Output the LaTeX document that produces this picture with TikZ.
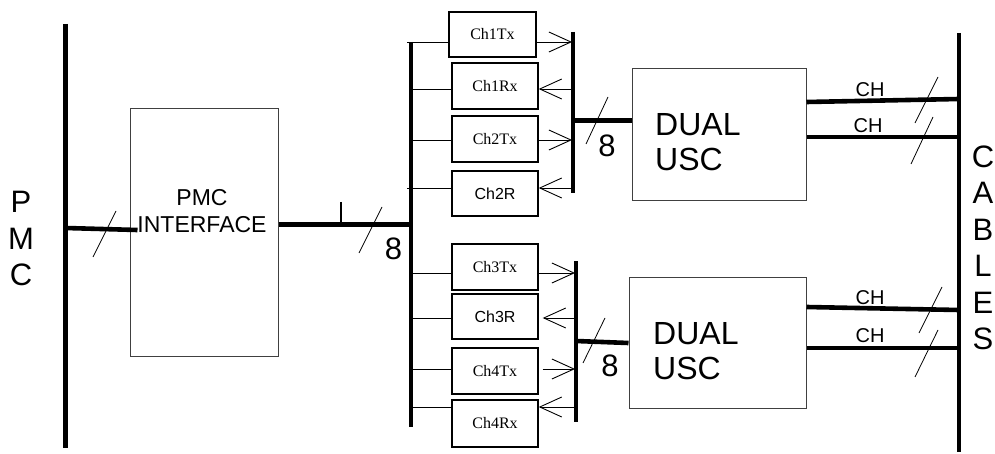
\documentclass[tikz,border=0pt]{standalone}
\usepackage{fontspec}
\setmainfont{Liberation Sans}
\newfontfamily\timesfont{Liberation Serif}
\usetikzlibrary{arrows.meta}
\newcommand\myfs[2]{\fontsize{#1}{#2}\selectfont}
\begin{document}
\begin{tikzpicture}[x=1pt,y=-1pt,
  bus/.style={line width=4.6pt},
  thickline/.style={line width=4.6pt},
  thinline/.style={line width=0.9pt},
  slash/.style={line width=0.8pt},
  arr/.style={line width=0.9pt,-{Straight Barb[length=22pt,width=20pt,line width=0.9pt]}},
  bigbox/.style={draw=black!75,line width=1pt,inner sep=0pt},
  chbox/.style={draw,line width=1.4pt,minimum width=86pt,minimum height=45pt,inner sep=0pt},
  sertext/.style={font=\timesfont\myfs{16}{18}},
  santext/.style={font=\myfs{16}{18}},
  eight/.style={font=\myfs{31}{34},inner sep=0pt},
  chlab/.style={font=\myfs{20}{22},inner sep=0pt},
  vert/.style={font=\myfs{31}{36.5},align=center,inner sep=0pt}]
\useasboundingbox (0,0) rectangle (995,454);

% buses
\draw[bus] (65.5,24) coordinate (pmcT) -- (65.5,448) coordinate (pmcB);
\draw[bus] (411,42) coordinate (lbT) -- (411,427) coordinate (lbB);
\draw[bus] (573,32) coordinate (rb1T) -- (573,193) coordinate (rb1B);
\draw[bus] (576,261) coordinate (rb2T) -- (576,422) coordinate (rb2B);
\draw[bus] (959,33) coordinate (cabT) -- (959,452) coordinate (cabB);

% vertical labels
\node[vert] (pmclab) at (21,238.5) {P\\M\\C};
\node[vert] (cablab) at (983,248) {C\\A\\B\\L\\E\\S};

% PMC interface
\node[bigbox,minimum width=148pt,minimum height=247pt] (pmcif) at (204,232.5) {};
\node[font=\myfs{23}{27},align=center,inner sep=0pt] (pmciftext) at (202,211) {PMC\\INTERFACE};

% channel boxes
\node[chbox,minimum width=87pt,sertext] (c1t) at (492.5,34.5) {Ch1Tx};
\node[chbox,minimum height=46pt,sertext] (c1r) at (495,86) {Ch1Rx};
\node[chbox,minimum height=46pt,sertext] (c2t) at (495,139) {Ch2Tx};
\node[chbox,santext] (c2r) at (495,193.5) {Ch2R};
\node[chbox,minimum height=46pt,sertext] (c3t) at (495,267) {Ch3Tx};
\node[chbox,santext] (c3r) at (495,316.5) {Ch3R};
\node[chbox,minimum height=46pt,sertext] (c4t) at (495,371) {Ch4Tx};
\node[chbox,minimum height=47pt,sertext] (c4r) at (495,423.5) {Ch4Rx};

% dual USC boxes
\node[bigbox,minimum width=174pt,minimum height=132pt] (usc1) at (719,135) {};
\node[font=\myfs{32}{35},align=left,inner sep=0pt,anchor=north west] (usc1t) at (655,113) {DUAL\\USC};
\node[bigbox,minimum width=177pt,minimum height=131pt] (usc2) at (717.5,342.5) {};
\node[font=\myfs{32}{35},align=left,inner sep=0pt,anchor=north west] (usc2t) at (653,322) {DUAL\\USC};

% PMC bus to interface
\draw[thickline] (65.5,228) -- ([xshift=8pt]pmcif.west |- 0,230);
\draw[slash] (93,257) -- (116,211);

% interface to left bus
\draw[thickline] (pmcif.east |- 0,224.5) -- (411,224.5);
\draw[line width=2pt] (341,202) -- (341,224);
\draw[slash] (359,253) -- (382,207);
\node[eight] (e1) at (393.5,248.5) {8};

% left bus to channel boxes
\draw[thinline] (407,42) -- (c1t.west |- 0,42);
\draw[thinline] (411,89) -- (c1r.west |- 0,89);
\draw[thinline] (411,140) -- (c2t.west |- 0,140);
\draw[thinline] (407,188) -- (c2r.west |- 0,188);
\draw[thinline] (411,273) -- (c3t.west |- 0,273);
\draw[thinline] (411,318) -- (c3r.west |- 0,318);
\draw[thinline] (411,369) -- (c4t.west |- 0,369);
\draw[thinline] (411,407) -- (c4r.west |- 0,407);

% channel boxes to right buses
\draw[arr] (c1t.east |- 0,42) -- (572,42);
\draw[arr] (572,89) -- (c1r.east |- 0,89);
\draw[arr] (c2t.east |- 0,140) -- (572,140);
\draw[arr] (572,188) -- (c2r.east |- 0,188);
\draw[arr] (c3t.east |- 0,273) -- (575,273);
\draw[arr] (575,318) -- ([xshift=4pt]c3r.east |- 0,318);
\draw[arr] ([xshift=4pt]c4t.east |- 0,369) -- (575,369);
\draw[arr] (575,407) -- (c4r.east |- 0,407);

% right buses to dual USC
\draw[thickline] (573,120.5) -- (usc1.west |- 0,120.5);
\draw[slash] (586,144) -- (608,97);
\node[eight] (e2) at (607,146) {8};
\draw[thickline] (576,341) -- (usc2.west |- 0,343);
\draw[slash] (583,363) -- (605,318);
\node[eight] (e3) at (610,366) {8};

% dual USC to cables
\draw[thickline] (usc1.east |- 0,102) -- (959,99);
\draw[thickline] (usc1.east |- 0,137) -- (959,137);
\node[chlab] (ch1) at (870,90) {CH};
\node[chlab] (ch2) at (868,126) {CH};
\draw[slash] (915,123) -- (938,77);
\draw[slash] (911,164) -- (933,117);

\draw[thickline] (usc2.east |- 0,307) -- (959,310);
\draw[thickline] (usc2.east |- 0,348) -- (959,348);
\node[chlab] (ch3) at (870,298) {CH};
\node[chlab] (ch4) at (870,336) {CH};
\draw[slash] (919,333) -- (942,287);
\draw[slash] (915,377) -- (938,330);
\end{tikzpicture}
\end{document}
